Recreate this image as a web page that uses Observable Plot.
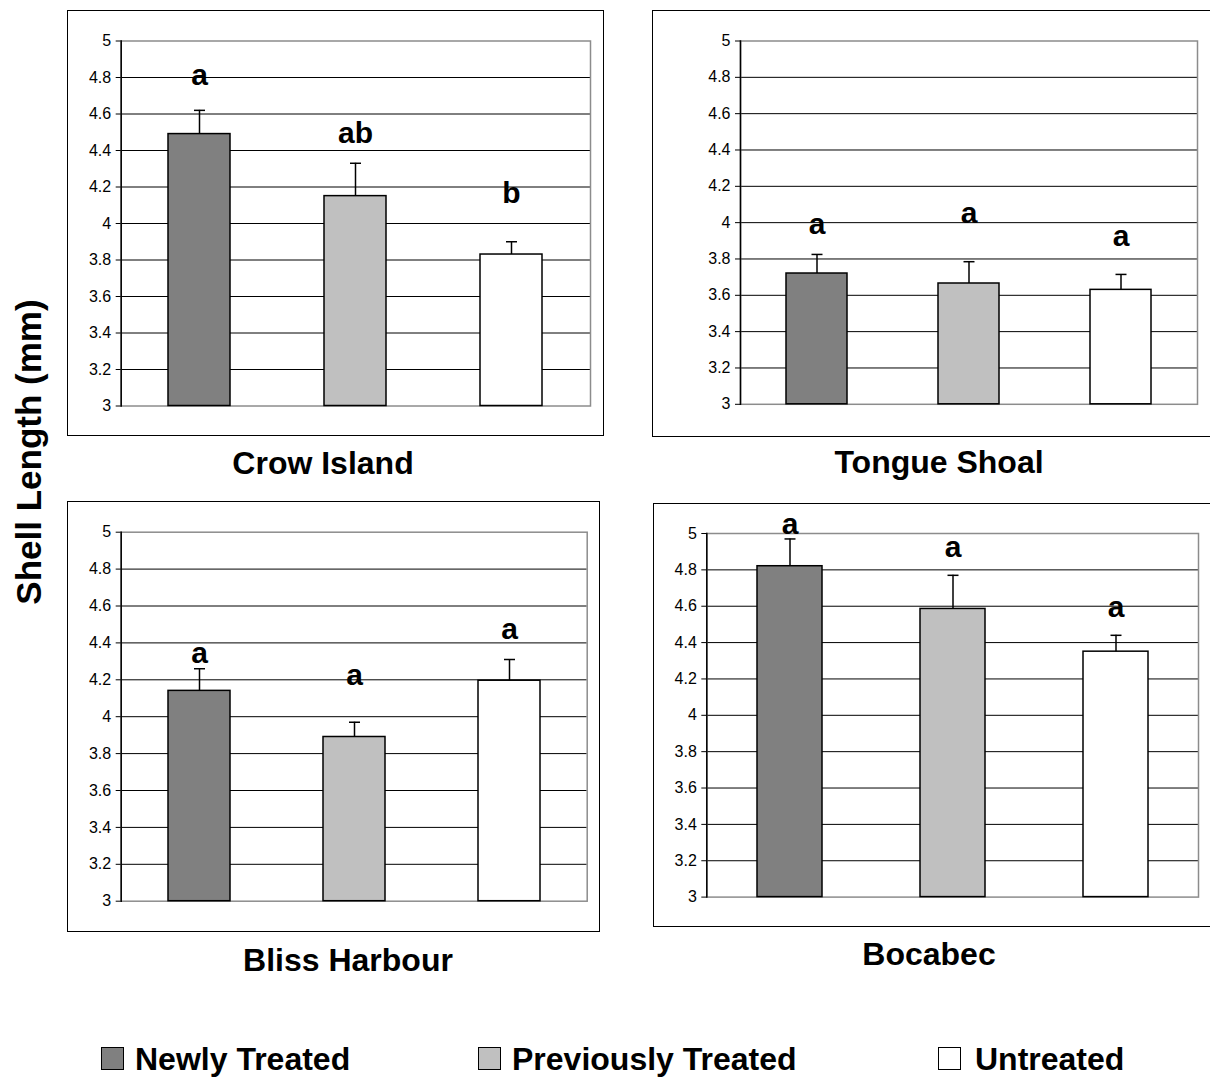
<!DOCTYPE html>
<html><head><meta charset="utf-8">
<script src="https://cdn.jsdelivr.net/npm/d3@7"></script>
<script src="https://cdn.jsdelivr.net/npm/@observablehq/plot@0.6"></script>
<style>
body{margin:0;background:#fff;overflow:hidden;}
#root{position:relative;width:1210px;height:1078px;overflow:hidden;font-family:Arial,"Liberation Sans",sans-serif;color:#000;}
.frame{position:absolute;border:1.5px solid #000;box-sizing:border-box;}
.panel{position:absolute;}
.title{position:absolute;font-weight:bold;font-size:32px;transform:translate(-50%,-50%);white-space:nowrap;}
.ylab{position:absolute;font-weight:bold;font-size:35px;white-space:nowrap;transform:translate(-50%,-50%) rotate(-90deg);}
.leg{position:absolute;display:flex;align-items:center;font-weight:bold;font-size:32px;white-space:nowrap;transform:translateY(-50%);}
.sw{width:21px;height:21px;border:1.5px solid #000;box-sizing:content-box;}
</style></head>
<body><div id="root"></div>
<script>
// ---- data ----
const treatments = ["Newly Treated", "Previously Treated", "Untreated"];
const treatmentColors = ["#808080", "#c0c0c0", "#ffffff"];
const yTicks = [3, 3.2, 3.4, 3.6, 3.8, 4, 4.2, 4.4, 4.6, 4.8, 5];

const sites = ["Crow Island", "Tongue Shoal", "Bliss Harbour", "Bocabec"];

const crowMeans = [4.49, 4.15, 3.83];
const crowSE = [0.13, 0.18, 0.07];
const crowLetters = ["a", "ab", "b"];
const crowLetterY = [4.76, 4.44, 4.11];

const tongueMeans = [3.72, 3.665, 3.63];
const tongueSE = [0.105, 0.12, 0.085];
const tongueLetters = ["a", "a", "a"];
const tongueLetterY = [3.94, 4.0, 3.87];

const blissMeans = [4.14, 3.89, 4.195];
const blissSE = [0.12, 0.08, 0.115];
const blissLetters = ["a", "a", "a"];
const blissLetterY = [4.29, 4.17, 4.42];

const bocabecMeans = [4.82, 4.585, 4.35];
const bocabecSE = [0.15, 0.185, 0.09];
const bocabecLetters = ["a", "a", "a"];
const bocabecLetterY = [5.0, 4.87, 4.54];

// ---- layout ----
const layouts = [
  {fx: 67, fy: 9.5, fw: 537, fh: 426, px0: 120.7, px1: 590, py0: 40, py1: 405, tx: 323, ty: 463},
  {fx: 652, fy: 9.5, fw: 580, fh: 427.5, px0: 740, px1: 1197, py0: 40, py1: 403.3, tx: 939, ty: 462},
  {fx: 67, fy: 501, fw: 533, fh: 431, px0: 120.7, px1: 586.7, py0: 531.7, py1: 900.7, tx: 348, ty: 960},
  {fx: 652.7, fy: 502.7, fw: 580, fh: 424.5, px0: 706, px1: 1197.7, py0: 532.7, py1: 896.3, tx: 929, ty: 954}
];
const panelData = [
  [crowMeans, crowSE, crowLetters, crowLetterY],
  [tongueMeans, tongueSE, tongueLetters, tongueLetterY],
  [blissMeans, blissSE, blissLetters, blissLetterY],
  [bocabecMeans, bocabecSE, bocabecLetters, bocabecLetterY]
];

const cap = {draw(ctx) { ctx.moveTo(-5.5, 0); ctx.lineTo(5.5, 0); }};
const root = document.getElementById("root");

function makePanel(L, means, se, letters, letterY, title) {
  const data = treatments.map((t, i) => ({t, v: means[i], hi: means[i] + se[i], letter: letters[i], ly: letterY[i]}));
  const fr = document.createElement("div");
  fr.className = "frame";
  Object.assign(fr.style, {left: L.fx + "px", top: L.fy + "px", width: L.fw + "px", height: L.fh + "px"});
  root.appendChild(fr);

  const chart = Plot.plot({
    width: L.fw, height: L.fh,
    marginLeft: L.px0 - L.fx, marginRight: L.fx + L.fw - L.px1,
    marginTop: L.py0 - L.fy, marginBottom: L.fy + L.fh - L.py1,
    x: {type: "band", domain: treatments, paddingInner: 0.6, paddingOuter: 0.3, axis: null},
    y: {domain: [3, 5], axis: null},
    color: {domain: treatments, range: treatmentColors},
    style: {background: "transparent", fontFamily: "Arial, 'Liberation Sans', sans-serif", fontSize: "16px", color: "#000"},
    marks: [
      Plot.ruleY(yTicks.filter(d => d > 3 && d < 5), {stroke: "#000", strokeWidth: 1}),
      Plot.frame({stroke: "#8c8c8c", strokeWidth: 1.5}),
      Plot.barY(data, {x: "t", y1: 3, y2: "v", fill: "t", stroke: "#000", strokeWidth: 1.5}),
      Plot.ruleX(data, {x: "t", y1: "v", y2: "hi", stroke: "#000", strokeWidth: 1.5}),
      Plot.dot(data, {x: "t", y: "hi", symbol: cap, fill: "none", stroke: "#000", strokeWidth: 1.5}),
      Plot.frame({anchor: "left", stroke: "#000", strokeWidth: 1.5}),
      Plot.axisY({ticks: yTicks, tickSize: 5, tickPadding: 5, fontSize: 16, tickFormat: d => String(d), stroke: "#000"}),
      Plot.text(data, {x: "t", y: "ly", text: "letter", fontSize: 30, fontWeight: "bold", lineAnchor: "bottom", fill: "#000"})
    ]
  });
  chart.classList.add("panel");
  chart.style.left = L.fx + "px";
  chart.style.top = L.fy + "px";
  root.appendChild(chart);

  const tt = document.createElement("div");
  tt.className = "title";
  tt.textContent = title;
  tt.style.left = L.tx + "px";
  tt.style.top = L.ty + "px";
  root.appendChild(tt);
}

layouts.forEach((L, i) => makePanel(L, ...panelData[i], sites[i]));

const yl = document.createElement("div");
yl.className = "ylab";
yl.textContent = "Shell Length (mm)";
yl.style.left = "29px";
yl.style.top = "452px";
root.appendChild(yl);

const legSw = [101, 478, 938];
const legTx = [135, 512, 975];
treatments.forEach((t, i) => {
  const sw = document.createElement("div");
  sw.className = "sw";
  Object.assign(sw.style, {position: "absolute", left: legSw[i] + "px", top: "1047px", background: treatmentColors[i]});
  root.appendChild(sw);
  const s = document.createElement("div");
  s.className = "leg";
  s.textContent = t;
  s.style.left = legTx[i] + "px";
  s.style.top = "1059px";
  root.appendChild(s);
});
</script></body></html>
